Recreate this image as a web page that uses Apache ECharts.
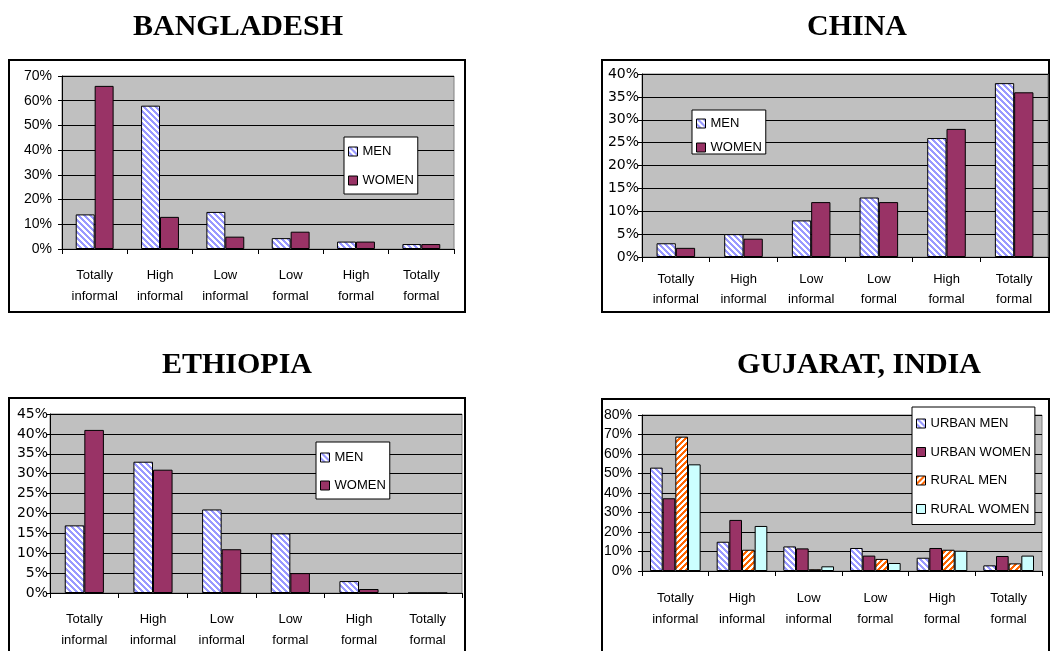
<!DOCTYPE html>
<html>
<head>
<meta charset="utf-8">
<script src="https://cdn.jsdelivr.net/npm/echarts@6/dist/echarts.min.js"></script>
<style>
  html, body { margin: 0; padding: 0; background: #fff; }
  #chart { width: 1050px; height: 651px; }
</style>
</head>
<body>
<div id="chart"></div>
<script>
// Employment categories, from most informal to most formal
const categories = ['Totally\ninformal', 'High\ninformal', 'Low\ninformal', 'Low\nformal', 'High\nformal', 'Totally\nformal'];

// Shares of employment (%) by country and group
const bangladeshMen   = [14, 58, 15, 4.4, 3, 2];
const bangladeshWomen = [66, 13, 5, 7, 3, 2];

const chinaMen   = [3, 5, 8, 13, 26, 38];
const chinaWomen = [2, 4, 12, 12, 28, 36];

const ethiopiaMen   = [17, 33, 21, 15, 3, 0];
const ethiopiaWomen = [41, 31, 11, 5, 1, 0];

const gujaratUrbanMen   = [53, 15, 12.6, 11.8, 6.8, 2.9];
const gujaratUrbanWomen = [37.3, 26.2, 11.6, 7.9, 11.8, 7.7];
const gujaratRuralMen   = [68.9, 10.9, 0.9, 6.2, 10.9, 3.9];
const gujaratRuralWomen = [54.7, 23.1, 2.4, 4.1, 10.4, 7.9];

const panelTitles = ['BANGLADESH', 'CHINA', 'ETHIOPIA', 'GUJARAT, INDIA'];

// Diagonal hatch fill drawn on a tiny tile and repeated.
// dir = 1 runs top-left to bottom-right, dir = -1 bottom-left to top-right.
function hatch(fg, bg, period, width, dir) {
  const c = document.createElement('canvas');
  c.width = c.height = period;
  const ctx = c.getContext('2d');
  ctx.fillStyle = bg;
  ctx.fillRect(0, 0, period, period);
  ctx.fillStyle = fg;
  for (let y = 0; y < period; y++) {
    for (let x = 0; x < period; x++) {
      const k = dir > 0 ? x - y : x + y;
      if (((k % period) + period) % period < width) ctx.fillRect(x, y, 1, 1);
    }
  }
  return { image: c, repeat: 'repeat' };
}

const menFill = hatch('#9999ff', '#ffffff', 6, 3, 1);
const ruralMenFill = hatch('#ff6600', '#ffffff', 6, 3, -1);
const womenFill = '#993366';
const ruralWomenFill = '#ccffff';

const SANS = 'Liberation Sans, Arial, sans-serif';
const WIDE_SANS = 'DejaVu Sans, ' + SANS;
const SERIF = 'Liberation Serif, Times New Roman, serif';

// Plot areas, one per panel
const grids = [
  { left: 62, top: 76, width: 392, height: 173 },
  { left: 642, top: 74, width: 406, height: 183 },
  { left: 50, top: 414, width: 412, height: 179 },
  { left: 642, top: 415, width: 400, height: 156 }
].map(g => Object.assign({
  show: true, backgroundColor: '#c0c0c0', borderColor: '#808080', borderWidth: 1, containLabel: false
}, g));

const yMax = [70, 40, 45, 80];
const yStep = [10, 5, 5, 10];
const yLabelMargin = [10, 3, 2, 10];
const yLabelFont = [14, 14, 14, 14];
const yLabelFamily = [SANS, WIDE_SANS, WIDE_SANS, SANS];
const xLabelMargin = [16, 12, 16, 17];
const xLineHeight = [21, 20, 21, 21];

const xAxes = grids.map((g, i) => ({
  type: 'category', gridIndex: i, data: categories,
  axisLine: { show: true, lineStyle: { color: '#000', width: 1 } },
  axisTick: { show: true, length: 5, lineStyle: { color: '#000' } },
  axisLabel: { color: '#000', fontFamily: SANS, fontSize: 13, lineHeight: xLineHeight[i], margin: xLabelMargin[i], interval: 0 },
  splitLine: { show: false }
}));

const yAxes = grids.map((g, i) => ({
  type: 'value', gridIndex: i, min: 0, max: yMax[i], interval: yStep[i],
  axisLine: { show: true, lineStyle: { color: '#000', width: 1 } },
  axisTick: { show: true, length: 4, lineStyle: { color: '#000' } },
  axisLabel: { color: '#000', fontFamily: yLabelFamily[i], fontSize: yLabelFont[i], margin: yLabelMargin[i], formatter: '{value}%' },
  splitLine: { show: true, lineStyle: { color: '#000', width: 1 } }
}));

function bar(name, data, idx, fill, catGap) {
  return {
    type: 'bar', name: name, data: data,
    xAxisIndex: idx, yAxisIndex: idx,
    barGap: '0%', barCategoryGap: catGap,
    itemStyle: { color: fill, borderColor: '#000', borderWidth: 1 },
    emphasis: { disabled: true },
    animation: false
  };
}

const series = [
  bar('MEN', bangladeshMen, 0, menFill, '42%'),
  bar('WOMEN', bangladeshWomen, 0, womenFill, '42%'),
  bar('MEN', chinaMen, 1, menFill, '43%'),
  bar('WOMEN', chinaWomen, 1, womenFill, '43%'),
  bar('MEN', ethiopiaMen, 2, menFill, '43%'),
  bar('WOMEN', ethiopiaWomen, 2, womenFill, '43%'),
  bar('URBAN MEN', gujaratUrbanMen, 3, menFill, '24%'),
  bar('URBAN WOMEN', gujaratUrbanWomen, 3, womenFill, '24%'),
  bar('RURAL MEN', gujaratRuralMen, 3, ruralMenFill, '24%'),
  bar('RURAL WOMEN', gujaratRuralWomen, 3, ruralWomenFill, '24%')
];

function legend(names, left, top, padding, lineHeight, gap) {
  return {
    data: names, left: left, top: top, orient: 'vertical',
    icon: 'rect', itemWidth: 9, itemHeight: 9, itemGap: gap,
    padding: padding, selectedMode: false,
    backgroundColor: '#fff', borderColor: '#000', borderWidth: 1, borderRadius: 0,
    itemStyle: { borderColor: '#000', borderWidth: 1 },
    textStyle: { color: '#000', fontFamily: SANS, fontSize: 13, lineHeight: lineHeight, padding: 0 }
  };
}

const legends = [
  legend(['MEN', 'WOMEN'], 344, 137, [7, 4, 6, 4], 15, 14),
  legend(['MEN', 'WOMEN'], 692, 110, [7, 4, 0, 4], 13, 11),
  legend(['MEN', 'WOMEN'], 316, 442, [8, 4, 6, 4], 15, 13),
  legend(['URBAN MEN', 'URBAN WOMEN', 'RURAL MEN', 'RURAL WOMEN'], 912, 407, [9, 4, 8, 4], 15, 13.5)
];

// Panel frames and headings
const frames = [
  { x: 9, y: 60, w: 456, h: 252 },
  { x: 602, y: 60, w: 447, h: 252 },
  { x: 9, y: 398, w: 456, h: 270 },
  { x: 602, y: 399, w: 447, h: 270 }
];
const headingPos = [[238, 27], [857, 27], [237, 365], [859, 365]];

const graphics = [];
frames.forEach(f => graphics.push({
  type: 'rect', z: -1, silent: true,
  shape: { x: f.x, y: f.y, width: f.w, height: f.h },
  style: { fill: null, stroke: '#000', lineWidth: 2 }
}));
panelTitles.forEach((t, i) => graphics.push({
  type: 'text', silent: true, x: headingPos[i][0], y: headingPos[i][1],
  style: { text: t, fill: '#000', font: 'bold 30px ' + SERIF, align: 'center', verticalAlign: 'middle' }
}));

const chart = echarts.init(document.getElementById('chart'), null, { renderer: 'canvas' });
chart.setOption({
  animation: false,
  backgroundColor: '#fff',
  grid: grids,
  xAxis: xAxes,
  yAxis: yAxes,
  legend: legends,
  series: series,
  graphic: graphics
});
</script>
</body>
</html>
